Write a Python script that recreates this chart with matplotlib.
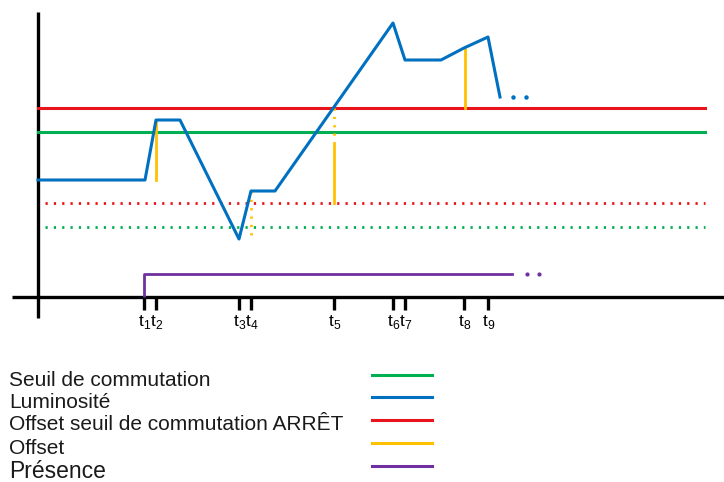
import matplotlib.pyplot as plt

plt.rcParams['font.family'] = ['Liberation Sans', 'DejaVu Sans']

# positions des instants t1..t9 (pixels du schéma)
t_pos = [144, 156, 239, 251, 334, 393, 405, 464, 488]
t_noms = ["1", "2", "3", "4", "5", "6", "7", "8", "9"]

# luminosité (x, y) ; y vers le bas
lum_x = [38, 145, 156, 180, 239, 251, 275, 393, 405, 441, 464, 488, 500]
lum_y = [180, 180, 120, 120, 239, 191, 191, 23, 60, 60, 48, 37, 97]
lum_suite_x = [513, 526]
lum_suite_y = [97, 97]

seuil_on = 132        # seuil de commutation
seuil_off = 108       # offset seuil ARRÊT
seuil_on_bas = 227
seuil_off_bas = 203
presence_y = 274

legende = ["Seuil de commutation", "Luminosité", "Offset seuil de commutation ARRÊT",
           "Offset", "Présence"]
couleurs = ["#00b050", "#0070c0", "#e8141b", "#ffc000", "#7030a0"]
vert, bleu, rouge, jaune, violet = couleurs

fig = plt.figure(figsize=(7.24, 4.82), dpi=100)
ax = fig.add_axes([0, 0, 1, 1])
ax.set_xlim(0, 724)
ax.set_ylim(482, 0)
ax.axis("off")

# axes du schéma
ax.plot([38, 38], [12, 318], color="black", lw=2.4, solid_capstyle="butt")
ax.plot([12, 724], [297, 297], color="black", lw=2.4, solid_capstyle="butt")

# seuils
ax.plot([38, 705], [seuil_off, seuil_off], color=rouge, lw=2.2)
ax.plot([38, 705], [seuil_on, seuil_on], color=vert, lw=2.2)
ax.plot([45, 705], [seuil_off_bas, seuil_off_bas], color=rouge, lw=2, ls=(0, (0.8, 2.2)))
ax.plot([45, 705], [seuil_on_bas, seuil_on_bas], color=vert, lw=2, ls=(0, (0.8, 2.2)))

# offsets
ax.plot([156, 156], [120, 180], color=jaune, lw=2)
ax.plot([251, 251], [191, 238], color=jaune, lw=2, ls=(0, (0.8, 2.2)))
ax.plot([334, 334], [108, 140], color=jaune, lw=2, ls=(0, (0.8, 2.2)))
ax.plot([334, 334], [143, 203], color=jaune, lw=2)
ax.plot([465, 465], [49, 108], color=jaune, lw=2)

# luminosité
ax.plot(lum_x, lum_y, color=bleu, lw=2.2)
ax.plot(lum_suite_x, lum_suite_y, "o", color=bleu, ms=2.2)

# présence
ax.plot([144, 144, 512], [297, presence_y, presence_y], color=violet, lw=2)
ax.plot([527, 539], [presence_y, presence_y], "o", color=violet, ms=2)

# graduations
for x, n in zip(t_pos, t_noms):
    ax.plot([x, x], [297, 310], color="black", lw=2.4, solid_capstyle="butt")
    ax.text(x + 0.5, 322, r"t$_{\mathregular{" + n + "}}$", fontsize=12.5,
            ha="center", va="center")

# légende
ly = [380, 402, 425, 448, 471]
for i, (txt, c) in enumerate(zip(legende, couleurs)):
    fs = 16.5 if i == 4 else 15
    ax.text(9, ly[i], txt, fontsize=fs, ha="left", va="center", color="#1a1a1a")
    ax.plot([372, 432], [ly[i] - 5, ly[i] - 5], color=c, lw=2.2)

fig.savefig("out.png", dpi=100)
